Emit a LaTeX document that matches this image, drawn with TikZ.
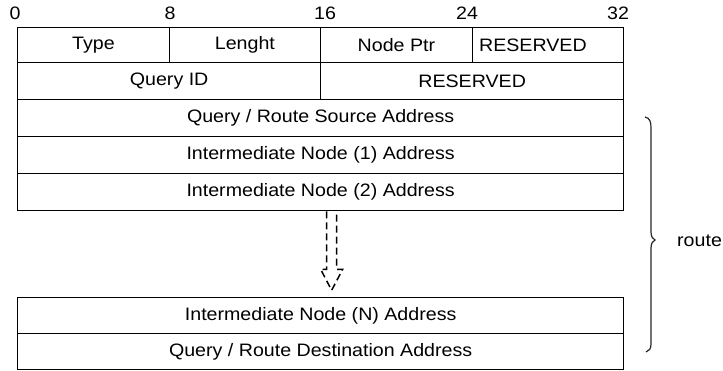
\documentclass[tikz,border=0pt]{standalone}
\usepackage{fontspec}
\setmainfont{Liberation Sans}[FakeStretch=1.09]
\newcommand{\fieldfont}{\fontsize{18}{20}\selectfont}
\begin{document}
\begin{tikzpicture}[x=1pt, y=-1pt,
  cell/.style={draw=black, line width=1.3pt, inner sep=0pt, anchor=north west,
    minimum width=#1, font=\fieldfont},
  bitnum/.style={inner sep=0pt, font=\fieldfont},
  hollowarrow/.style={draw=black, line width=1.5pt, dash pattern=on 7pt off 4pt},
  bracepath/.style={draw=black!85, line width=1.2pt},
]
\useasboundingbox (0,0) rectangle (723,370);

% bit offsets
\node[bitnum] (b0)  at (15,13.5)  {0};
\node[bitnum] (b8)  at (170,13.5) {8};
\node[bitnum] (b16) at (325,13.5) {16};
\node[bitnum] (b24) at (467,13.5) {24};
\node[bitnum] (b32) at (618,13.5) {32};

% first word
\node[cell=151.5pt, minimum height=35pt] (type)  at (17,27)    {Type};
\node[cell=151.5pt, minimum height=35pt] (len)   at (168.5,27) {Lenght};
\node[cell=151.5pt, minimum height=35pt] (nptr)  at (320,27)   {Node Ptr};
\node[cell=151.5pt, minimum height=35pt,
      label={[xshift=-15pt, font=\fieldfont]center:RESERVED}] (res1) at (471.5,27) {};

% second word
\node[cell=303pt, minimum height=37pt] (qid)  at (17,62)  {Query ID};
\node[cell=303pt, minimum height=37pt] (res2) at (320,62) {RESERVED};

% address list
\node[cell=606pt, minimum height=37pt] (src) at (17,99)  {Query / Route Source Address};
\node[cell=606pt, minimum height=37pt] (i1)  at (17,136) {Intermediate Node (1) Address};
\node[cell=606pt, minimum height=37pt] (i2)  at (17,173) {Intermediate Node (2) Address};
\node[cell=606pt, minimum height=36pt] (iN)  at (17,297) {Intermediate Node (N) Address};
\node[cell=606pt, minimum height=36pt] (dst) at (17,333) {Query / Route Destination Address};

% dashed hollow arrow between the listed nodes
\draw[hollowarrow] ([xshift=6pt]i2.south) -- ++(0,58) -- ++(-6,0) -- ++(11,21)
  -- ++(11,-21) -- ++(-6,0) -- ++(0,-58);

% brace over the route entries
\draw[bracepath] (645,117) .. controls (650,118) and (651,122) .. (651,128)
  -- (651,232) .. controls (651,237) and (653,239) .. (655,240)
  .. controls (653,241) and (651,243) .. (651,248)
  -- (651,344) .. controls (651,349) and (649,351) .. (646,352);
\node[bitnum, anchor=west] (route) at (677,241) {route};
\end{tikzpicture}
\end{document}
